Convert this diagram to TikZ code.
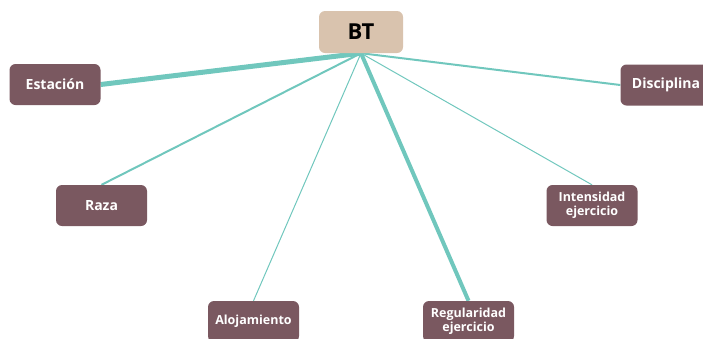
\documentclass[tikz,border=0pt]{standalone}
\usepackage{fontspec}
\setmainfont{Open Sans}
\usetikzlibrary{backgrounds}
\definecolor{boxfill}{HTML}{7A5860}
\definecolor{topfill}{HTML}{D9C3AE}
\definecolor{teal}{HTML}{70C7BD}
\begin{document}
\begin{tikzpicture}[x=1pt,y=-1pt,
  leaf/.style={draw=none,fill=boxfill,rounded corners=6pt,minimum width=91pt,minimum height=41pt,
    text=white,font=\bfseries\fontsize{14}{16}\selectfont,align=center,inner sep=0pt},
  leafsmall/.style={leaf,font=\bfseries\fontsize{12.5}{14}\selectfont},
  rootbox/.style={draw=none,fill=topfill,rounded corners=6pt,minimum width=84pt,minimum height=42pt,
    text=black,font=\bfseries\fontsize{22}{24}\selectfont,inner sep=0pt},
  link/.style={draw=teal}]
\useasboundingbox (0,0) rectangle (703,338);
\node[rootbox] (bt) at (361,32) {BT};
\node[leaf] (est) at (55,84.5) {Estación};
\node[leaf] (dis) at (666,85) {Disciplina};
\node[leaf] (raza) at (101.5,205.5) {Raza};
\node[leafsmall] (int) at (592,205.5) {Intensidad\\ejercicio};
\node[leafsmall] (alo) at (253.5,321.5) {Alojamiento};
\node[leafsmall] (reg) at (468.5,321.5) {Regularidad\\ejercicio};
\begin{scope}[on background layer]
\draw[link,line width=5pt] (bt.south) -- (est.east);
\draw[link,line width=2pt] (bt.south) -- (dis.west);
\draw[link,line width=2pt] (bt.south) -- (raza.north);
\draw[link,line width=1pt] (bt.south) -- (int.north);
\draw[link,line width=1pt] (bt.south) -- (alo.north);
\draw[link,line width=4pt] (bt.south) -- (reg.north);
\end{scope}
\end{tikzpicture}
\end{document}
